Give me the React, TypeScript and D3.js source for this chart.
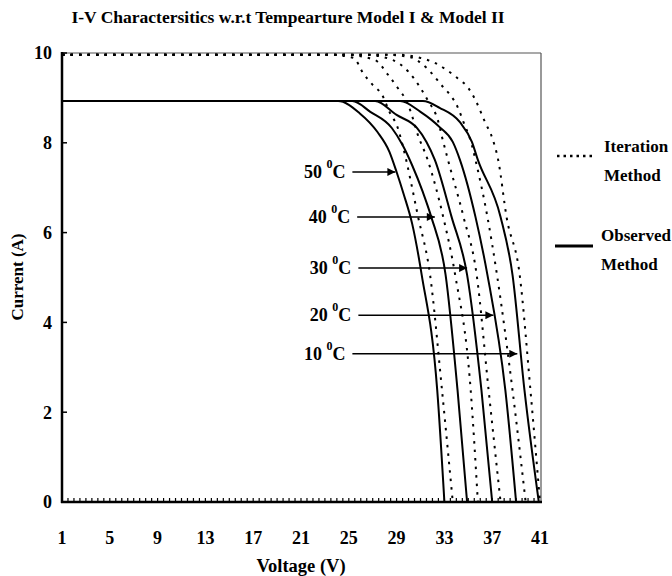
import React from 'react';
import * as d3 from 'd3';

// x ticks (V) and y ticks (A)
const voltageTicks = [1, 5, 9, 13, 17, 21, 25, 29, 33, 37, 41];
const currentTicks = [0, 2, 4, 6, 8, 10];

// observed method, [V, I]
const observed50 = [[1, 8.93], [24.1, 8.93], [25.9, 8.66], [27.4, 8.24], [28.4, 7.8], [29.0, 7.35], [29.6, 6.85], [30.3, 6.2], [31.1, 5.06], [32.4, 2.49], [33, 0]];
const observed40 = [[1, 8.93], [25.3, 8.93], [26.8, 8.69], [28.6, 8.33], [29.5, 7.95], [30.3, 7.5], [31.2, 6.9], [31.9, 6.35], [33.1, 5.06], [34.1, 2.49], [34.9, 0]];
const observed30 = [[1, 8.93], [27.2, 8.93], [29.0, 8.62], [30.7, 8.33], [31.5, 8.02], [32.2, 7.62], [33.6, 6.35], [34.9, 5.06], [36.1, 2.49], [37, 0]];
const observed20 = [[1, 8.93], [29.3, 8.93], [31, 8.69], [32.6, 8.35], [33.7, 8.02], [34.3, 7.62], [35.6, 6.35], [36.6, 5.06], [38.1, 2.49], [39, 0]];
const observed10 = [[1, 8.93], [31.2, 8.93], [32.6, 8.78], [34.3, 8.46], [35.3, 8.02], [35.8, 7.62], [37.7, 6.35], [38.7, 5.06], [39.7, 2.49], [40.9, 0]];

// iteration method, [V, I]
const iteration50 = [[1, 9.96], [23.4, 9.96], [25.4, 9.89], [26.2, 9.55], [27.0, 9.29], [27.8, 9.06], [28.4, 8.69], [29.1, 8.33], [29.5, 7.95], [30.8, 6.35], [31.8, 5.06], [32.8, 2.49], [33.7, 0]];
const iteration40 = [[1, 9.96], [24.7, 9.96], [27.2, 9.84], [28.3, 9.51], [29.1, 9.22], [29.9, 8.89], [30.4, 8.51], [30.7, 8.24], [31.6, 7.62], [32.9, 6.35], [33.9, 5.06], [35.2, 2.49], [35.8, 0]];
const iteration30 = [[1, 9.96], [26.4, 9.96], [28.7, 9.84], [30.0, 9.58], [31.0, 9.22], [31.6, 8.95], [32.5, 8.46], [32.8, 8.13], [33.3, 7.62], [34.6, 6.35], [35.7, 5.06], [36.7, 2.49], [37.7, 0]];
const iteration20 = [[1, 9.96], [28.0, 9.96], [30.1, 9.91], [31.5, 9.67], [32.9, 9.24], [33.5, 9.06], [34.1, 8.8], [34.6, 8.46], [35.3, 7.95], [35.6, 7.62], [36.6, 6.35], [37.4, 5.06], [38.7, 2.49], [39.8, 0]];
const iteration10 = [[1, 9.96], [29.3, 9.96], [31.0, 9.89], [32.2, 9.78], [33.2, 9.62], [34.1, 9.44], [35.0, 9.22], [35.6, 8.95], [36.4, 8.46], [37.0, 8.11], [37.5, 7.62], [38.2, 6.35], [39.3, 5.06], [40.2, 2.49], [41, 0]];

// temperature labels and where their arrows point
const temps = ['50', '40', '30', '20', '10'];
const arrowTipV = [28.9, 32.2, 34.9, 37.1, 39.1];
const arrowI = [7.35, 6.35, 5.21, 4.16, 3.3];
const arrowStartV = [25.3, 25.7, 25.8, 25.8, 25.3];

const observed = [observed50, observed40, observed30, observed20, observed10];
const iteration = [iteration50, iteration40, iteration30, iteration20, iteration10];

const font = '"Liberation Serif", "Times New Roman", serif';

export default function App() {
  const x = d3.scaleLinear().domain([1, 41]).range([62, 540]);
  const y = d3.scaleLinear().domain([0, 10]).range([502, 53]);
  const line = d3.line<number[]>()
    .x(d => x(d[0]))
    .y(d => y(d[1]))
    .curve(d3.curveMonotoneX);
  const minor = d3.range(1.5, 41, 0.5);

  return (
    <svg width={672} height={576} style={{ position: 'absolute', left: 0, top: 0, background: '#fff' }}
      fontFamily={font} fontWeight="bold">
      <defs>
        <marker id="arr" viewBox="0 0 10 10" refX="10" refY="5" markerWidth="10" markerHeight="8"
          markerUnits="userSpaceOnUse" orient="auto">
          <path d="M0,0 L10,5 L0,10 z" fill="#000" />
        </marker>
      </defs>

      <text x={288} y={23} textAnchor="middle" fontSize={17.5}>
        I-V Charactersitics w.r.t Tempearture Model I &amp; Model II
      </text>

      {/* frame */}
      <line x1={x(1)} x2={x(41) + 1} y1={y(10)} y2={y(10)} stroke="#555" strokeWidth={1.2} />
      <line x1={x(41) + 1} x2={x(41) + 1} y1={y(10)} y2={y(0)} stroke="#555" strokeWidth={1.2} />

      {/* curves */}
      {iteration.map((d, i) => (
        <path key={'it' + i} d={line(d) || ''} fill="none" stroke="#000" strokeWidth={2}
          strokeDasharray="2.5 6" />
      ))}
      {observed.map((d, i) => (
        <path key={'ob' + i} d={line(d) || ''} fill="none" stroke="#000" strokeWidth={2} />
      ))}

      {/* axes */}
      <line x1={x(1)} x2={x(1)} y1={y(10) - 1} y2={y(0) + 1} stroke="#000" strokeWidth={2.5} />
      <line x1={x(1) - 1} x2={x(41) + 2} y1={y(0)} y2={y(0)} stroke="#000" strokeWidth={2.5} />
      {minor.map(v => (
        <line key={'mt' + v} x1={x(v)} x2={x(v)} y1={y(0)} y2={y(0) - 4} stroke="#000" strokeWidth={1.2} />
      ))}
      {currentTicks.map(t => (
        <g key={'yt' + t}>
          <line x1={x(1)} x2={x(1) + 5} y1={y(t)} y2={y(t)} stroke="#000" strokeWidth={1.5} />
          <text x={x(1) - 10} y={y(t)} dy="0.35em" textAnchor="end" fontSize={18}>{t}</text>
        </g>
      ))}
      {voltageTicks.map(t => (
        <text key={'xt' + t} x={x(t)} y={544} textAnchor="middle" fontSize={18}>{t}</text>
      ))}

      <text x={301} y={572} textAnchor="middle" fontSize={18.5}>Voltage (V)</text>
      <text transform="translate(23,277) rotate(-90)" textAnchor="middle" fontSize={17}>Current (A)</text>

      {/* temperature annotations */}
      {temps.map((t, i) => (
        <g key={'lab' + t}>
          <line x1={x(arrowStartV[i])} x2={x(arrowTipV[i])} y1={y(arrowI[i])} y2={y(arrowI[i])}
            stroke="#000" strokeWidth={1.5} markerEnd="url(#arr)" />
          <text x={x(arrowStartV[i]) - 7} y={y(arrowI[i]) + 6} textAnchor="end" fontSize={18}>
            {t + ' '}<tspan fontSize={12} dy={-10}>0</tspan><tspan dy={10}>C</tspan>
          </text>
        </g>
      ))}

      {/* legend */}
      <line x1={557} x2={593} y1={156} y2={156} stroke="#000" strokeWidth={2.5} strokeDasharray="2.5 4" />
      <text x={604} y={152} fontSize={17}>Iteration</text>
      <text x={604} y={181} fontSize={17}>Method</text>
      <line x1={555} x2={593} y1={246} y2={246} stroke="#000" strokeWidth={3} />
      <text x={601} y={241} fontSize={17}>Observed</text>
      <text x={601} y={270} fontSize={17}>Method</text>
    </svg>
  );
}
